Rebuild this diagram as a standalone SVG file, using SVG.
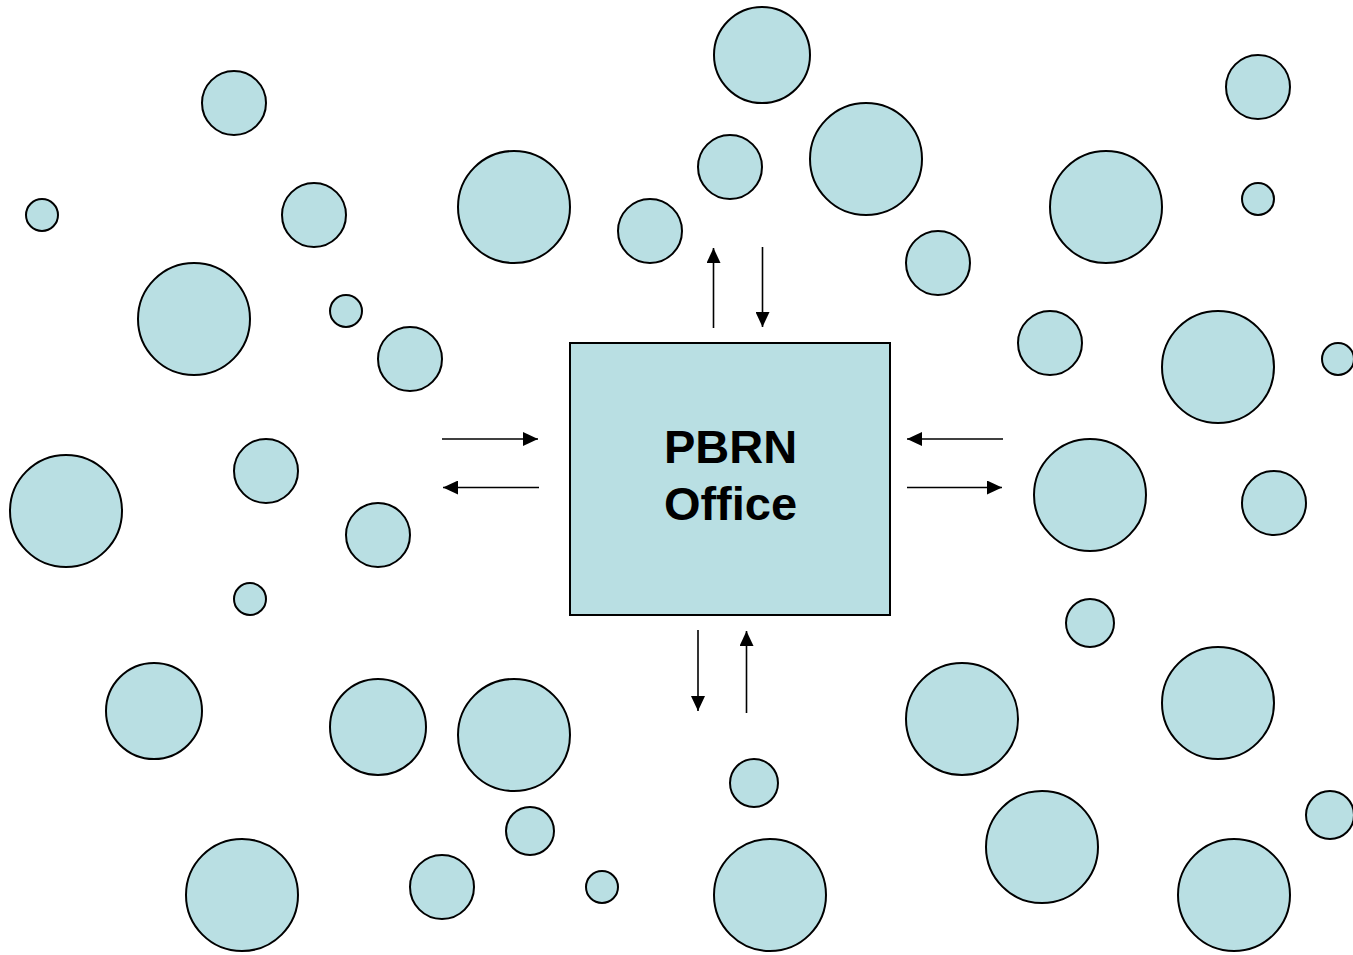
<svg xmlns="http://www.w3.org/2000/svg" width="1353" height="955" viewBox="0 0 1353 955">
  <style>
    .site { fill: #b9dfe3; stroke: #000; stroke-width: 2; }
    .office { fill: #b9dfe3; stroke: #000; stroke-width: 2; }
    .label { font-family: "Liberation Sans", Arial, sans-serif; font-weight: bold; font-size: 47px; fill: #000; text-anchor: middle; }
    .flow { stroke: #000; stroke-width: 1.6; fill: none; marker-end: url(#head); }
  </style>
  <defs>
    <marker id="head" markerUnits="userSpaceOnUse" markerWidth="16" markerHeight="14" refX="15" refY="7" orient="auto">
      <path d="M0,0 L15,7 L0,14 Z" fill="#000"/>
    </marker>
  </defs>
  <rect width="1353" height="955" fill="#fff"/>

  <!-- member sites -->
  <g id="sites">
    <circle id="s1" class="site" cx="762" cy="55" r="48"/>
    <circle id="s2" class="site" cx="234" cy="103" r="32"/>
    <circle id="s3" class="site" cx="1258" cy="87" r="32"/>
    <circle id="s4" class="site" cx="866" cy="159" r="56"/>
    <circle id="s5" class="site" cx="730" cy="167" r="32"/>
    <circle id="s6" class="site" cx="42" cy="215" r="16"/>
    <circle id="s7" class="site" cx="314" cy="215" r="32"/>
    <circle id="s8" class="site" cx="514" cy="207" r="56"/>
    <circle id="s9" class="site" cx="650" cy="231" r="32"/>
    <circle id="s10" class="site" cx="1106" cy="207" r="56"/>
    <circle id="s11" class="site" cx="1258" cy="199" r="16"/>
    <circle id="s12" class="site" cx="938" cy="263" r="32"/>
    <circle id="s13" class="site" cx="194" cy="319" r="56"/>
    <circle id="s14" class="site" cx="346" cy="311" r="16"/>
    <circle id="s15" class="site" cx="410" cy="359" r="32"/>
    <circle id="s16" class="site" cx="1050" cy="343" r="32"/>
    <circle id="s17" class="site" cx="1218" cy="367" r="56"/>
    <circle id="s18" class="site" cx="1338" cy="359" r="16"/>
    <circle id="s19" class="site" cx="266" cy="471" r="32"/>
    <circle id="s20" class="site" cx="66" cy="511" r="56"/>
    <circle id="s21" class="site" cx="378" cy="535" r="32"/>
    <circle id="s22" class="site" cx="1090" cy="495" r="56"/>
    <circle id="s23" class="site" cx="1274" cy="503" r="32"/>
    <circle id="s24" class="site" cx="250" cy="599" r="16"/>
    <circle id="s25" class="site" cx="1090" cy="623" r="24"/>
    <circle id="s26" class="site" cx="154" cy="711" r="48"/>
    <circle id="s27" class="site" cx="378" cy="727" r="48"/>
    <circle id="s28" class="site" cx="514" cy="735" r="56"/>
    <circle id="s29" class="site" cx="962" cy="719" r="56"/>
    <circle id="s30" class="site" cx="1218" cy="703" r="56"/>
    <circle id="s31" class="site" cx="754" cy="783" r="24"/>
    <circle id="s32" class="site" cx="530" cy="831" r="24"/>
    <circle id="s33" class="site" cx="1330" cy="815" r="24"/>
    <circle id="s34" class="site" cx="1042" cy="847" r="56"/>
    <circle id="s35" class="site" cx="242" cy="895" r="56"/>
    <circle id="s36" class="site" cx="442" cy="887" r="32"/>
    <circle id="s37" class="site" cx="602" cy="887" r="16"/>
    <circle id="s38" class="site" cx="770" cy="895" r="56"/>
    <circle id="s39" class="site" cx="1234" cy="895" r="56"/>
  </g>

  <!-- central office -->
  <g id="office">
    <rect class="office" x="570" y="343" width="320" height="272"/>
    <text class="label" x="730.5" y="463">PBRN</text>
    <text class="label" x="730.5" y="520">Office</text>
  </g>

  <!-- two-way exchange arrows -->
  <g id="connectors">
    <line class="flow" x1="442" y1="439" x2="538" y2="439"/>
    <line class="flow" x1="539" y1="487.5" x2="443" y2="487.5"/>
    <line class="flow" x1="1003" y1="439" x2="907" y2="439"/>
    <line class="flow" x1="907" y1="487.5" x2="1002" y2="487.5"/>
    <line class="flow" x1="713.5" y1="328" x2="713.5" y2="248"/>
    <line class="flow" x1="762.5" y1="247" x2="762.5" y2="327"/>
    <line class="flow" x1="698" y1="630" x2="698" y2="711"/>
    <line class="flow" x1="746.5" y1="713" x2="746.5" y2="631"/>
  </g>
</svg>
